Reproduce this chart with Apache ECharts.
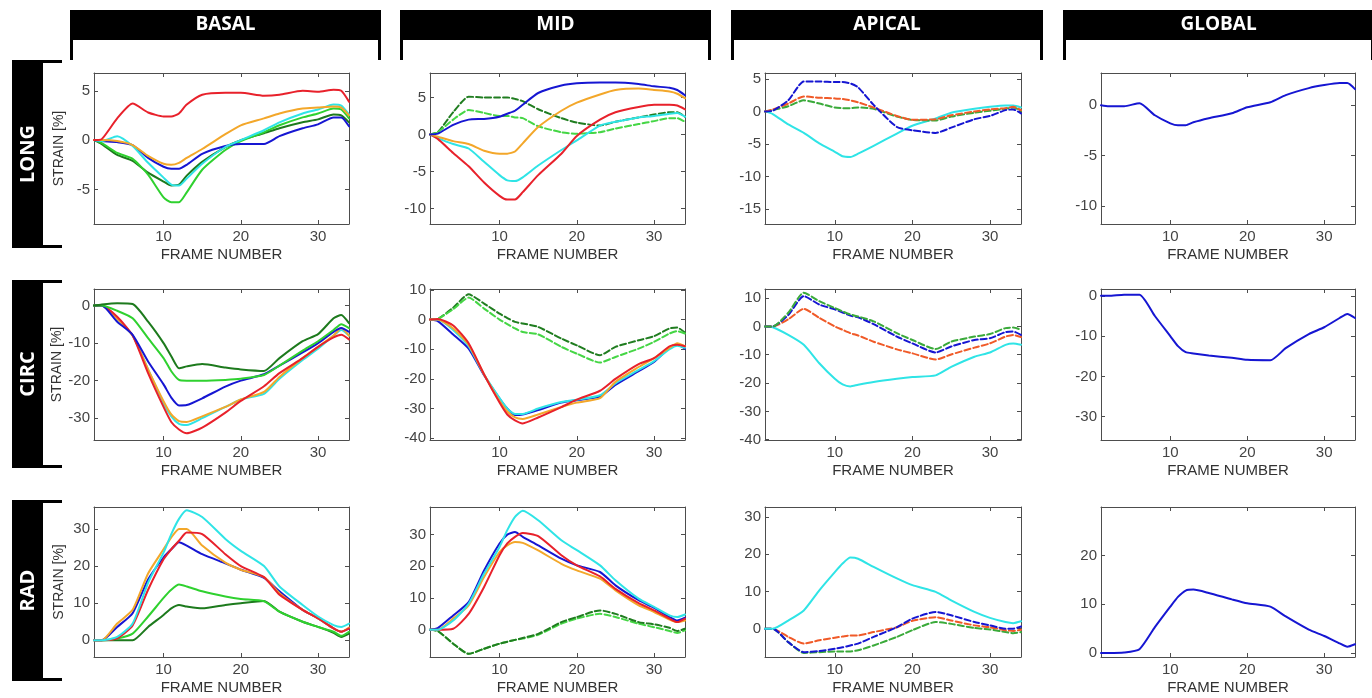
<!DOCTYPE html>
<html>
<head>
<meta charset="utf-8">
<script src="https://cdn.jsdelivr.net/npm/echarts@6/dist/echarts.min.js"></script>
<style>
  html, body { margin: 0; padding: 0; background: #ffffff; }
  #chart { width: 1372px; height: 698px; }
</style>
</head>
<body>
<div id="chart"></div>
<script>
// Frame numbers at which each strain trace is sampled
const FRAMES = [1, 2, 4, 6, 8, 10, 11, 12, 13, 15, 18, 20, 23, 25, 28, 30, 32, 33, 34];

const COLUMN_TITLES = ['BASAL', 'MID', 'APICAL', 'GLOBAL'];
const ROW_TITLES = ['LONG', 'CIRC', 'RAD'];
const X_TICKS = [10, 20, 30];

// Tick labels of the strain axes
const TICKS_LONG_BASAL = [-5, 0, 5];
const TICKS_LONG_MID = [-10, -5, 0, 5];
const TICKS_LONG_APICAL = [-15, -10, -5, 0, 5];
const TICKS_LONG_GLOBAL = [-10, -5, 0];
const TICKS_CIRC_BASAL = [-30, -20, -10, 0];
const TICKS_CIRC_MID = [-40, -30, -20, -10, 0, 10];
const TICKS_CIRC_APICAL = [-40, -30, -20, -10, 0, 10];
const TICKS_CIRC_GLOBAL = [-30, -20, -10, 0];
const TICKS_RAD_BASAL = [0, 10, 20, 30];
const TICKS_RAD_MID = [0, 10, 20, 30];
const TICKS_RAD_APICAL = [0, 10, 20, 30];
const TICKS_RAD_GLOBAL = [0, 10, 20];

// Longitudinal strain [%]
const lb_red     = [0, 0.1, 2.2, 3.7, 2.8, 2.4, 2.4, 2.7, 3.6, 4.6, 4.8, 4.8, 4.5, 4.6, 5.0, 4.9, 5.1, 5.0, 3.9];
const lb_orange  = [0, 0, -0.1, -0.5, -1.6, -2.4, -2.5, -2.3, -1.8, -0.9, 0.6, 1.5, 2.2, 2.7, 3.2, 3.3, 3.4, 3.3, 2.5];
const lb_cyan    = [0, -0.1, 0.4, -0.6, -2.3, -3.8, -4.5, -4.6, -3.9, -2.4, -0.7, 0.0, 1.0, 1.8, 2.7, 3.1, 3.6, 3.5, 2.6];
const lb_blue    = [0, -0.1, -0.2, -0.5, -1.8, -2.7, -2.9, -2.9, -2.5, -1.4, -0.6, -0.4, -0.4, 0.4, 1.2, 1.6, 2.3, 2.3, 1.4];
const lb_green   = [0, -0.3, -1.3, -1.9, -3.5, -5.8, -6.3, -6.3, -5.3, -3.0, -1.0, -0.1, 0.8, 1.5, 2.3, 2.7, 3.2, 3.1, 2.2];
const lb_dkgreen = [0, -0.4, -1.5, -2.1, -3.3, -4.2, -4.6, -4.5, -3.6, -2.2, -0.7, 0.0, 0.7, 1.2, 1.8, 2.1, 2.6, 2.5, 1.8];

const lm_blue     = [0, 0.1, 1.3, 2.0, 2.1, 2.4, 2.8, 3.2, 4.0, 5.6, 6.6, 6.9, 7.0, 7.0, 6.8, 6.5, 6.3, 6.0, 5.3];
const lm_orange   = [0, -0.3, -0.9, -1.3, -2.2, -2.6, -2.6, -2.3, -1.2, 1.0, 3.2, 4.3, 5.4, 6.0, 6.2, 6.0, 5.8, 5.5, 4.9];
const lm_red      = [0, -0.6, -2.5, -4.3, -6.5, -8.3, -8.8, -8.8, -7.8, -5.5, -2.6, -0.2, 2.0, 3.0, 3.7, 4.0, 4.0, 3.9, 3.4];
const lm_cyan     = [0, -0.5, -1.3, -1.9, -3.7, -5.5, -6.2, -6.3, -5.8, -4.2, -2.1, -0.8, 1.2, 1.7, 2.3, 2.5, 2.8, 2.9, 2.4];
const lm_dkgreenD = [0, 0.3, 3.0, 5.1, 5.0, 5.0, 5.0, 4.8, 4.5, 3.4, 2.2, 1.6, 1.2, 1.7, 2.3, 2.7, 3.0, 3.0, 2.4];
const lm_greenD   = [0, 0.3, 2.0, 3.3, 2.9, 2.5, 2.5, 2.3, 2.2, 1.1, 0.3, 0.1, 0.3, 0.8, 1.4, 1.8, 2.2, 2.2, 1.7];

const la_blueD  = [0, 0.1, 1.7, 4.6, 4.6, 4.5, 4.5, 4.3, 3.7, 1.0, -2.4, -2.9, -3.3, -2.5, -1.2, -0.7, 0.2, 0.3, -0.3];
const la_redD   = [0, 0.3, 1.2, 2.3, 2.1, 2.0, 1.9, 1.7, 1.4, 0.6, -0.7, -1.3, -1.2, -0.6, 0.0, 0.3, 0.5, 0.7, 0.2];
const la_greenD = [0, 0.2, 0.8, 1.7, 1.2, 0.6, 0.5, 0.5, 0.6, 0.4, -0.8, -1.3, -1.4, -0.8, -0.2, 0.1, 0.4, 0.6, 0.1];
const la_cyan   = [0, -0.4, -2.0, -3.3, -4.9, -6.2, -6.9, -7.0, -6.5, -5.3, -3.4, -2.2, -1.1, -0.2, 0.4, 0.7, 0.9, 0.9, 0.6];

const lg_blue = [0, -0.1, -0.1, 0.2, -1.0, -1.8, -2.0, -2.0, -1.7, -1.3, -0.8, -0.2, 0.3, 1.0, 1.7, 2.0, 2.2, 2.2, 1.6];

// Circumferential strain [%]
const cb_dkgreen = [0, 0.3, 0.6, 0.4, -4.3, -10, -13.5, -16.7, -16.2, -15.6, -16.5, -17, -17.4, -14, -9.5, -7.6, -3.4, -2.5, -4.7];
const cb_green   = [0, 0, -1.4, -3.4, -8.7, -14, -17.5, -19.8, -20, -20, -19.8, -19.5, -18.5, -16, -12, -9.5, -6.5, -5, -6];
const cb_blue    = [0, 0, -4.3, -7.8, -14.9, -21, -24.5, -26.6, -26.5, -24.7, -21.6, -20, -18.3, -16, -12.5, -10, -7, -6, -7];
const cb_orange  = [0, 0, -3.5, -8, -17, -25.5, -29, -30.8, -31, -29.5, -27, -25, -23, -19, -14, -11, -8, -6, -8];
const cb_cyan    = [0, 0, -3.5, -8, -17, -26, -29.5, -31.5, -31.8, -30, -27, -25, -23.5, -19.5, -14.5, -11.5, -8, -6.5, -8];
const cb_red     = [0, 0, -3, -8, -18, -27, -31, -33, -34, -32.5, -28.5, -25.4, -21.5, -18, -14, -11, -8.5, -7.8, -9];

const cm_dkgreenD = [0, 0.2, 4, 8.5, 5.4, 2.0, 0.5, -0.8, -1.3, -2.5, -6.4, -8.7, -12, -9.2, -7, -5.6, -3, -2.7, -4.4];
const cm_greenD   = [0, 0.2, 3.5, 7.4, 3.7, 0, -1.5, -3, -4.2, -5, -9.2, -11.5, -14.5, -12.6, -9.8, -7.5, -4.7, -3.9, -4.7];
const cm_blue     = [0, -0.5, -5, -9.8, -18.8, -26.6, -30, -32.2, -32, -30.5, -28, -27.2, -26, -22, -17.4, -14.3, -9.5, -8.4, -9.8];
const cm_cyan     = [0, 0, -3.5, -9, -18.5, -26.5, -30, -31.8, -31.8, -30, -27.8, -27, -25.5, -21.5, -17, -14, -10, -8.8, -9.5];
const cm_red      = [0, 0.2, -2, -8, -18.5, -28, -32, -34, -35, -33, -29.5, -27, -24, -20, -15, -13, -9, -8.5, -9];
const cm_orange   = [0, 0, -3, -8.5, -18.5, -27.5, -31, -33, -33.5, -32, -29.5, -28, -26.5, -21, -16, -13, -9.5, -8, -9];

const ca_greenD = [0, 0, 4.8, 11.9, 8.9, 6.5, 5.3, 4.2, 3.5, 1.8, -2.4, -4.8, -8, -5.4, -3.6, -2.7, -0.6, -0.4, -1.2];
const ca_blueD  = [0, 0, 4, 10.7, 7.7, 6, 4.9, 3.8, 3.2, 0.8, -3.6, -6, -9.2, -7.1, -4.8, -4.2, -2, -1.8, -3];
const ca_redD   = [0, 0, 2.5, 6.2, 3, 0, -1.2, -2.4, -3.2, -5.4, -8.1, -9.5, -11.7, -9.9, -7.5, -6, -3.6, -3, -3.8];
const ca_cyan   = [0, -0.3, -3, -6.5, -13, -18.5, -20.5, -21.2, -20.6, -19.6, -18.5, -17.9, -17.3, -14.3, -10.7, -9.2, -6.5, -6, -6.5];

const cg_blue = [0, 0, 0.3, 0.3, -5, -10, -12.5, -14, -14.3, -14.8, -15.4, -15.9, -16, -13, -9.5, -7.8, -5.5, -4.5, -5.5];

// Radial strain [%]
const rb_cyan    = [0, 0, 0.9, 4.5, 15.5, 23.6, 28.6, 32.7, 35, 33.2, 27.3, 24.1, 20, 14.5, 9.5, 6.4, 4.1, 3.6, 4.5];
const rb_orange  = [0, 0, 4.5, 8.2, 18, 24.5, 27.7, 30, 30, 25.5, 20.9, 19, 17, 12.7, 8.2, 5.9, 3.2, 2.3, 3.4];
const rb_red     = [0, 0, 0.5, 4, 13.6, 21.8, 24.5, 26.8, 29, 28.6, 23.2, 20, 17, 12.3, 8.2, 5.9, 3.2, 2.3, 3.2];
const rb_blue    = [0, 0, 3.6, 7.3, 16.4, 22.3, 24.5, 26.4, 25.5, 23.2, 20.7, 19, 16.8, 13.2, 8.2, 5.9, 3.2, 2.3, 3.2];
const rb_green   = [0, 0, 0.5, 1.8, 6.4, 11.4, 13.6, 15, 14.5, 13.2, 11.8, 11.1, 10.5, 7.7, 5, 3.6, 2.3, 1.2, 2.3];
const rb_dkgreen = [0, 0, 0, 0, 3.6, 6.8, 8.6, 9.5, 9.1, 8.6, 9.5, 10, 10.6, 7.7, 5, 3.6, 2, 0.9, 1.8];

const rm_cyan     = [0, 0, 2.9, 8.2, 17.7, 26.1, 31.4, 35.6, 37.5, 34.5, 28.2, 25.1, 20.3, 15.6, 9.8, 7.2, 4.5, 4, 4.8];
const rm_blue     = [0, 0.5, 4.5, 8.7, 18.7, 27.2, 30, 30.8, 29.3, 26.6, 22.4, 20.3, 18.2, 14, 9.3, 6.9, 4, 2.9, 3.8];
const rm_red      = [0, 0, 0.3, 5, 13.5, 23.5, 27.2, 29.3, 30.5, 29.5, 23.5, 20.3, 16.8, 12.9, 8.4, 6.1, 3.5, 2.4, 3.5];
const rm_orange   = [0, 0, 3.5, 7.7, 16.6, 24.5, 26.6, 27.7, 27.4, 25, 20.8, 18.7, 16.1, 12.4, 7.7, 5.6, 3.2, 2.4, 2.9];
const rm_dkgreenD = [0, -0.4, -4.4, -7.6, -6, -4.4, -3.8, -3.2, -2.6, -1.3, 2.4, 4, 6.1, 5, 2.4, 1.7, 0.6, -0.4, 0.3];
const rm_greenD   = [0, -0.4, -4.4, -7.6, -6, -4.4, -3.8, -3.2, -2.8, -1.6, 1.9, 3.5, 5, 4, 1.9, 0.8, -0.4, -1, -0.2];

const ra_cyan   = [0, 0, 2.2, 4.9, 10.3, 15.2, 17.5, 19.1, 18.8, 16.6, 13.5, 11.7, 9.9, 7.6, 4.5, 2.9, 1.8, 1.5, 2];
const ra_redD   = [0, 0, -2.2, -4, -3.1, -2.4, -2.1, -1.8, -1.8, -0.9, 0.4, 2.1, 3.1, 2.2, 0.9, 0.4, -0.4, -0.6, -0.3];
const ra_blueD  = [0, 0, -3.6, -6.3, -6, -5.4, -5, -4.5, -4, -2.2, 0.4, 2.7, 4.5, 3.6, 1.8, 0.9, 0, 0, 0.6];
const ra_greenD = [0, 0, -3.6, -6.5, -6.3, -6.1, -6.1, -6.1, -5.8, -4.5, -2.2, -0.4, 1.8, 1.3, 0.2, -0.2, -0.9, -1.2, -0.9];

const rg_blue = [0, 0, 0.1, 0.8, 5.3, 9.5, 11.5, 12.8, 13, 12.3, 11, 10.2, 9.5, 7.5, 4.8, 3.5, 2, 1.3, 1.8];

// ---- styling ----
const RED = '#e8212b', ORANGE = '#f3a72a', CYAN = '#2fe4e6', BLUE = '#1616d2',
      GREEN = '#2fd12f', DKGREEN = '#1d7a1d', GREEN_D = '#45d645', DKGREEN_D = '#207d20',
      REDORANGE_D = '#f05a28', GREEN_AP = '#3aaa3a';
const AXIS = '#4d4d4d';
const FONT = '"Liberation Sans", Arial, sans-serif';

const COL_LEFT = [94, 430, 765, 1101];
const COL_WIDTH = [255, 255, 256, 254];
const ROW_TOP = [73, 289, 507];
const ROW_HEIGHT = [151, 151, 150];

// panel: row, col, y range, ticks, traces [values, colour, dashed]
const PANELS = [
  { r: 0, c: 0, min: -8.5, max: 6.8, ticks: TICKS_LONG_BASAL, lines: [
    [lb_dkgreen, DKGREEN, false], [lb_green, GREEN, false], [lb_blue, BLUE, false],
    [lb_cyan, CYAN, false], [lb_orange, ORANGE, false], [lb_red, RED, false]] },
  { r: 0, c: 1, min: -12.1, max: 8.3, ticks: TICKS_LONG_MID, lines: [
    [lm_dkgreenD, DKGREEN_D, true], [lm_greenD, GREEN_D, true], [lm_cyan, CYAN, false],
    [lm_red, RED, false], [lm_orange, ORANGE, false], [lm_blue, BLUE, false]] },
  { r: 0, c: 2, min: -17.3, max: 5.9, ticks: TICKS_LONG_APICAL, lines: [
    [la_cyan, CYAN, false], [la_greenD, GREEN_AP, true], [la_redD, REDORANGE_D, true],
    [la_blueD, BLUE, true]] },
  { r: 0, c: 3, min: -11.8, max: 3.2, ticks: TICKS_LONG_GLOBAL, lines: [
    [lg_blue, BLUE, false]] },
  { r: 1, c: 0, min: -35.8, max: 4.4, ticks: TICKS_CIRC_BASAL, lines: [
    [cb_cyan, CYAN, false], [cb_orange, ORANGE, false], [cb_red, RED, false],
    [cb_blue, BLUE, false], [cb_green, GREEN, false], [cb_dkgreen, DKGREEN, false]] },
  { r: 1, c: 1, min: -40.6, max: 10.3, ticks: TICKS_CIRC_MID, lines: [
    [cm_dkgreenD, DKGREEN_D, true], [cm_greenD, GREEN_D, true], [cm_blue, BLUE, false],
    [cm_cyan, CYAN, false], [cm_orange, ORANGE, false], [cm_red, RED, false]] },
  { r: 1, c: 2, min: -40.1, max: 13.2, ticks: TICKS_CIRC_APICAL, lines: [
    [ca_cyan, CYAN, false], [ca_redD, REDORANGE_D, true], [ca_blueD, BLUE, true],
    [ca_greenD, GREEN_AP, true]] },
  { r: 1, c: 3, min: -35.8, max: 1.7, ticks: TICKS_CIRC_GLOBAL, lines: [
    [cg_blue, BLUE, false]] },
  { r: 2, c: 0, min: -4.5, max: 35.9, ticks: TICKS_RAD_BASAL, lines: [
    [rb_dkgreen, DKGREEN, false], [rb_green, GREEN, false], [rb_blue, BLUE, false],
    [rb_orange, ORANGE, false], [rb_red, RED, false], [rb_cyan, CYAN, false]] },
  { r: 2, c: 1, min: -8.6, max: 38.7, ticks: TICKS_RAD_MID, lines: [
    [rm_greenD, GREEN_D, true], [rm_dkgreenD, DKGREEN_D, true], [rm_orange, ORANGE, false],
    [rm_blue, BLUE, false], [rm_red, RED, false], [rm_cyan, CYAN, false]] },
  { r: 2, c: 2, min: -7.6, max: 32.7, ticks: TICKS_RAD_APICAL, lines: [
    [ra_greenD, GREEN_AP, true], [ra_redD, REDORANGE_D, true], [ra_blueD, BLUE, true],
    [ra_cyan, CYAN, false]] },
  { r: 2, c: 3, min: -0.8, max: 29.9, ticks: TICKS_RAD_GLOBAL, lines: [
    [rg_blue, BLUE, false]] }
];

const grids = [], xAxes = [], yAxes = [], series = [];

PANELS.forEach((p, gi) => {
  grids.push({ left: COL_LEFT[p.c], top: ROW_TOP[p.r], width: COL_WIDTH[p.c], height: ROW_HEIGHT[p.r],
               containLabel: false, show: false });

  const axisLine = { show: true, onZero: false, lineStyle: { color: AXIS, width: 1 } };
  const xBase = { type: 'value', gridIndex: gi, min: 1, max: 34, splitLine: { show: false }, axisLine,
                  axisTick: { show: true, inside: true, length: 4, customValues: X_TICKS, lineStyle: { color: AXIS } } };
  xAxes.push(Object.assign({}, xBase, {
    position: 'bottom',
    axisLabel: { customValues: X_TICKS, color: '#444', fontSize: 15, margin: 5, fontFamily: FONT },
    name: 'FRAME NUMBER', nameLocation: 'middle', nameGap: 23,
    nameTextStyle: { color: '#333', fontSize: 15, fontFamily: FONT }
  }));
  xAxes.push(Object.assign({}, xBase, { position: 'top', axisLabel: { show: false } }));

  const yBase = { type: 'value', gridIndex: gi, min: p.min, max: p.max, splitLine: { show: false }, axisLine,
                  axisTick: { show: true, inside: true, length: 4, customValues: p.ticks, lineStyle: { color: AXIS } } };
  const yLeft = Object.assign({}, yBase, {
    position: 'left',
    axisLabel: { customValues: p.ticks, color: '#444', fontSize: 15, margin: 4, fontFamily: FONT }
  });
  if (p.c === 0) {
    Object.assign(yLeft, { name: 'STRAIN [%]', nameLocation: 'middle', nameGap: 28, nameRotate: 90,
      nameTextStyle: { color: '#333', fontSize: 14, fontFamily: FONT } });
  }
  yAxes.push(yLeft);
  yAxes.push(Object.assign({}, yBase, { position: 'right', axisLabel: { show: false } }));

  p.lines.forEach(([vals, color, dashed]) => {
    series.push({
      type: 'line', xAxisIndex: gi * 2, yAxisIndex: gi * 2,
      data: FRAMES.map((f, i) => [f, vals[i]]),
      symbol: 'none', showSymbol: false, smooth: 0.2,
      lineStyle: { color, width: 2, type: dashed ? [6, 3] : 'solid', cap: 'round', join: 'round' },
      itemStyle: { color }, silent: true, animation: false
    });
  });
});

// Bracketed black header bands for columns and rows
const HEAD_COLS = [[70, 381], [400, 711], [731, 1043], [1063, 1374]];
const HEAD_ROWS = [[60, 248], [280, 468], [500, 681]];
const graphics = [];
HEAD_COLS.forEach(([x0, x1], i) => {
  graphics.push({ type: 'rect', shape: { x: x0, y: 10, width: x1 - x0, height: 30 }, style: { fill: '#000' } });
  graphics.push({ type: 'rect', shape: { x: x0, y: 10, width: 3, height: 50 }, style: { fill: '#000' } });
  graphics.push({ type: 'rect', shape: { x: x1 - 3, y: 10, width: 3, height: 50 }, style: { fill: '#000' } });
  graphics.push({ type: 'text', x: (x0 + x1) / 2, y: 25,
    style: { text: COLUMN_TITLES[i], fill: '#fff', fontSize: 19, fontWeight: 'bold', fontFamily: '"Open Sans", sans-serif',
             align: 'center', verticalAlign: 'middle' } });
});
HEAD_ROWS.forEach(([y0, y1], i) => {
  graphics.push({ type: 'rect', shape: { x: 12, y: y0, width: 31, height: y1 - y0 }, style: { fill: '#000' } });
  graphics.push({ type: 'rect', shape: { x: 12, y: y0, width: 50, height: 3 }, style: { fill: '#000' } });
  graphics.push({ type: 'rect', shape: { x: 12, y: y1 - 3, width: 50, height: 3 }, style: { fill: '#000' } });
  graphics.push({ type: 'text', x: 28, y: (y0 + y1) / 2, rotation: Math.PI / 2,
    style: { text: ROW_TITLES[i], fill: '#fff', fontSize: 20, fontWeight: 'bold', fontFamily: '"Open Sans", sans-serif',
             align: 'center', verticalAlign: 'middle' } });
});

const chart = echarts.init(document.getElementById('chart'), null, { renderer: 'canvas' });
chart.setOption({
  backgroundColor: '#ffffff',
  animation: false,
  grid: grids,
  xAxis: xAxes,
  yAxis: yAxes,
  series,
  graphic: graphics
});
</script>
</body>
</html>
